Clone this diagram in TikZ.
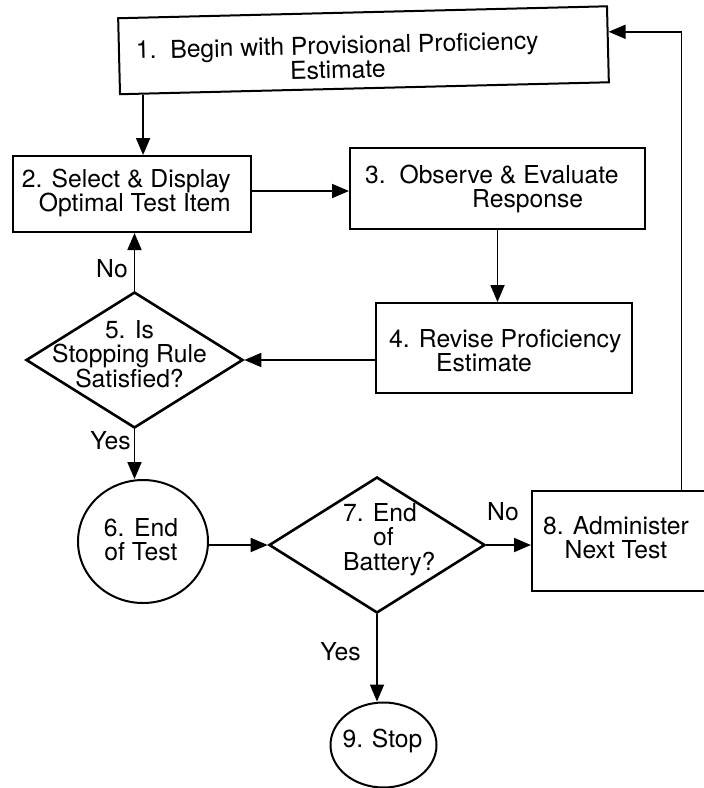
\documentclass[tikz,border=0pt]{standalone}
\usepackage{fontspec}
\setmainfont{TeX Gyre Heros}
\usetikzlibrary{shapes.geometric,arrows.meta,calc}
\newcommand{\stackc}[1]{\vtop{\halign{\hfil##\hfil\cr#1\crcr}}}
\newcommand{\stackl}[1]{\vtop{\halign{##\hfil\cr#1\crcr}}}
\newcommand{\stackr}[1]{\vtop{\halign{\hfil##\cr#1\crcr}}}
\begin{document}
\begin{tikzpicture}[x=1pt,y=-1pt,
  box/.style={draw, rectangle, line width=2pt, inner sep=0pt},
  dia/.style={draw, diamond, line width=2.6pt, inner sep=0pt},
  ell/.style={draw, ellipse, line width=2pt, inner sep=0pt},
  txt/.style={inner sep=0pt, font=\fontsize{24.7pt}{24.5pt}\selectfont},
  arr/.style={line width=1.8pt, -{Triangle[length=17pt,width=14pt]}}]
\fill[white] (0,0) rectangle (704,788);
\useasboundingbox (0,0) rectangle (704,788);

% shapes
\node[box, rotate=1.4, minimum width=489pt, minimum height=76pt] (b1) at (363.5,50.25) {};
\node[box, minimum width=238pt, minimum height=76pt] (b2) at (132,194) {};
\node[box, minimum width=295pt, minimum height=81pt] (b3) at (497.5,188.5) {};
\node[box, minimum width=256pt, minimum height=90pt] (b4) at (504,348) {};
\node[dia, minimum width=217pt, minimum height=136pt] (d5) at (134.5,360) {};
\node[ell, minimum width=130pt, minimum height=123pt] (c6) at (143,541.5) {};
\node[dia, minimum width=216pt, minimum height=136pt] (d7) at (377,545) {};
\node[box, minimum width=180pt, minimum height=100pt] (b8) at (622,541) {};
\node[ell, minimum width=106pt, minimum height=85pt] (c9) at (383.5,745) {};

% texts
\node[txt, rotate=1.4, anchor=base] (t1) at (337.5,54) {\stackc{1.\ \ Begin with Provisional Proficiency\cr Estimate}};
\node[txt, anchor=base east] (t2) at (231,187) {\stackr{2. Select \& Display\cr Optimal Test Item}};
\node[txt, anchor=base west] (t3) at (365,183) {\stackl{3.\ \ Observe \& Evaluate\cr\hspace*{107pt}Response}};
\node[txt, anchor=base west] (t4) at (389,347) {\stackl{4. Revise Proficiency\cr\hspace*{47pt}Estimate}};
\node[txt, anchor=base] (t5) at (129.5,338) {\stackc{5. Is\cr Stopping Rule\cr Satisfied?}};
\node[txt, anchor=base] (t6) at (141,536) {\stackc{6.\hspace{0.4em}End\cr of Test}};
\node[txt, anchor=base west] (t7) at (343,521) {\stackl{7. End\cr\hspace*{30pt}of\cr Battery?}};
\node[txt, anchor=base] (t8) at (616,534) {\stackc{8. Administer\cr Next Test}};
\node[txt, anchor=base] (t9) at (382.5,747) {9.\hspace{0.35em}Stop};

% branch labels
\node[txt, anchor=base east] (l5no) at (128,277) {No};
\node[txt, anchor=base east] (l5yes) at (131,449) {Yes};
\node[txt, anchor=base west] (l7no) at (487,520) {No};
\node[txt, anchor=base east] (l7yes) at (361,660) {Yes};

% connectors
\coordinate (p12) at ($(b1.south west)!0.049!(b1.south east)$);
\draw[arr] (p12) -- (p12 |- b2.north);
\coordinate (h23) at (0,191);
\draw[arr] (b2.east |- h23) -- (b3.west |- h23);
\draw[arr] (b3.south) -- (b3.south |- b4.north);
\draw[arr] (b4.west |- d5.east) -- (d5.east);
\draw[arr] (d5.north) -- (d5.north |- b2.south);
\draw[arr] (d5.south) -- (d5.south |- c6.north);
\draw[arr] (c6.east |- d7.west) -- (d7.west);
\draw[arr] (d7.east) -- (d7.east -| b8.west);
\draw[arr] (d7.south) -- (d7.south |- c9.north);
\coordinate (p81) at ($(b8.north west)!0.827!(b8.north east)$);
\coordinate (p18) at ($(b1.north east)!0.34!(b1.south east)$);
\draw[arr] (p81) |- (p18);
\end{tikzpicture}
\end{document}
